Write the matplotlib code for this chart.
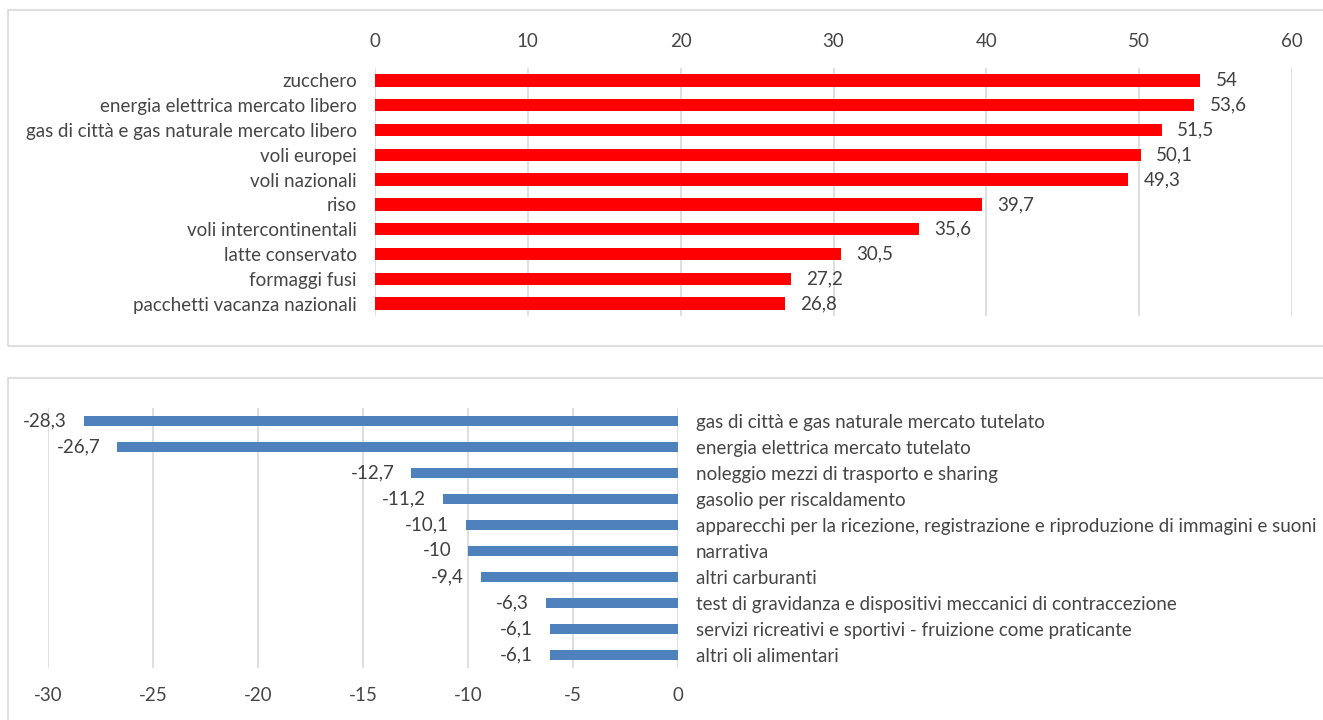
import matplotlib
matplotlib.use('Agg')
import matplotlib.pyplot as plt
from matplotlib.patches import Rectangle

# dati: variazioni percentuali
cat_up = ['zucchero', 'energia elettrica mercato libero',
          'gas di città e gas naturale mercato libero', 'voli europei',
          'voli nazionali', 'riso', 'voli intercontinentali',
          'latte conservato', 'formaggi fusi', 'pacchetti vacanza nazionali']
val_up = [54, 53.6, 51.5, 50.1, 49.3, 39.7, 35.6, 30.5, 27.2, 26.8]

cat_down = ['gas di città e gas naturale mercato tutelato',
            'energia elettrica mercato tutelato',
            'noleggio mezzi di trasporto e sharing',
            'gasolio per riscaldamento',
            'apparecchi per la ricezione, registrazione e riproduzione di immagini e suoni',
            'narrativa', 'altri carburanti',
            'test di gravidanza e dispositivi meccanici di contraccezione',
            'servizi ricreativi e sportivi - fruizione come praticante',
            'altri oli alimentari']
val_down = [-28.3, -26.7, -12.7, -11.2, -10.1, -10, -9.4, -6.3, -6.1, -6.1]

plt.rcParams['font.family'] = ['Lato', 'DejaVu Sans']
plt.rcParams['axes.unicode_minus'] = False
txt = '#464646'
grid = '#d9d9d9'
fs = 13.5

W, H = 1323, 720
fig = plt.figure(figsize=(W / 100, H / 100), dpi=100)

# cornici dei due grafici
fig.add_artist(Rectangle((8 / W, 1 - 346 / H), 1320 / W, 336 / H,
                         transform=fig.transFigure, fill=False, ec=grid, lw=1.2))
fig.add_artist(Rectangle((8 / W, 1 - 722 / H), 1320 / W, 344 / H,
                         transform=fig.transFigure, fill=False, ec=grid, lw=1.2))


def fmt(v):
    return ('%g' % v).replace('.', ',')


# grafico in alto
ax1 = fig.add_axes([375 / W, 1 - 316 / H, 917 / W, 248 / H])
y1 = range(len(cat_up))
b1 = ax1.barh(y1, val_up, height=0.5, color='#ff0000')
ax1.set_xlim(0, 60)
ax1.set_ylim(len(cat_up) - 0.5, -0.5)
ax1.set_yticks(list(y1))
ax1.set_yticklabels(cat_up)
ax1.set_xticks(range(0, 61, 10))
ax1.xaxis.tick_top()
ax1.tick_params(axis='x', length=0, pad=13, labelsize=fs, labelcolor=txt)
ax1.tick_params(axis='y', length=0, pad=13, labelsize=fs, labelcolor=txt)
ax1.grid(axis='x', color=grid, lw=1.2)
ax1.set_axisbelow(True)
for s in ax1.spines.values():
    s.set_visible(False)
ax1.bar_label(b1, labels=[fmt(v) for v in val_up], padding=11,
              fontsize=fs, color='#404040')

# grafico in basso
ax2 = fig.add_axes([48 / W, 1 - 668 / H, 630 / W, 260 / H])
y2 = range(len(cat_down))
b2 = ax2.barh(y2, val_down, height=0.4, color='#4f81bd')
ax2.set_xlim(-30, 0)
ax2.set_ylim(len(cat_down) - 0.5, -0.5)
ax2.set_yticks(list(y2))
ax2.set_yticklabels(cat_down)
ax2.yaxis.tick_right()
ax2.set_xticks(range(-30, 1, 5))
ax2.tick_params(axis='x', length=0, pad=14, labelsize=fs, labelcolor=txt)
ax2.tick_params(axis='y', length=0, pad=13, labelsize=fs, labelcolor=txt)
ax2.grid(axis='x', color=grid, lw=1.2)
ax2.set_axisbelow(True)
for s in ax2.spines.values():
    s.set_visible(False)
ax2.bar_label(b2, labels=[fmt(v) for v in val_down], padding=12,
              fontsize=fs, color='#404040')

fig.savefig('out.png', dpi=100, facecolor='white')
